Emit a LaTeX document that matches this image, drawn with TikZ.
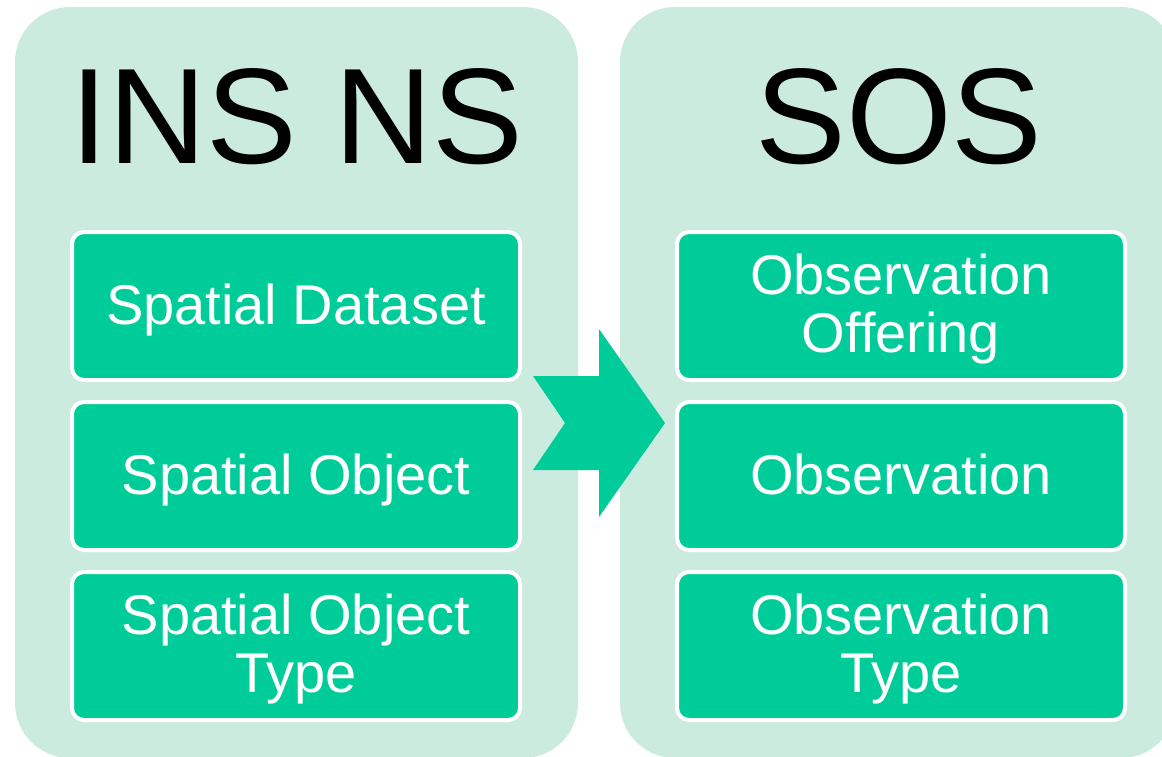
\documentclass[tikz,border=0pt]{standalone}
\usepackage{fontspec}
\setmainfont{Liberation Sans}
\usepackage{xcolor}
\usepackage{tikz}

\definecolor{panelgreen}{HTML}{CCEBDF}
\definecolor{itemgreen}{HTML}{00CC99}

\tikzset{
  panel/.style={fill=panelgreen, rounded corners=55pt},
  itembox/.style={draw=white, line width=4pt, fill=itemgreen, rounded corners=12pt,
    minimum width=448pt, minimum height=148pt, inner sep=0pt,
    text=white, align=center, font=\fontsize{56}{58}\selectfont},
  oneline/.style={itembox, text height=37pt, text depth=0pt},
  twoline/.style={itembox, text height=92pt, text depth=0pt},
  title/.style={anchor=base, inner sep=0pt, font=\fontsize{136}{136}\selectfont}
}

\begin{document}
\begin{tikzpicture}[x=1pt, y=-1pt]
      \useasboundingbox (0,0) rectangle (1162,756);

      % INS NS panel
      \fill[panel] (15,7) rectangle (578,758);
      \node[title] (insns) at (297,163) {INS NS};

      % SOS panel
      \fill[panel] (620,7) rectangle (1176,758);
      \node[title] (sos) at (899,163) {SOS};

      % Left items
      \node[oneline] (dataset) at (296,306) {Spatial Dataset};
      \node[oneline] (object) at (296,476) {Spatial Object};
      \node[twoline] (objtype) at (296,646) {Spatial Object\\Type};

      % Right items
      \node[twoline] (offering) at (901,306) {Observation\\Offering};
      \node[oneline] (observation) at (901,476) {Observation};
      \node[twoline] (obstype) at (901,646) {Observation\\Type};

      % Notched arrow
      \fill[itemgreen] (533,376) -- (599,376) -- (599,329) -- (665,423)
          -- (599,517) -- (599,470) -- (533,470) -- (565,423) -- cycle;

  \end{tikzpicture}
\end{document}
